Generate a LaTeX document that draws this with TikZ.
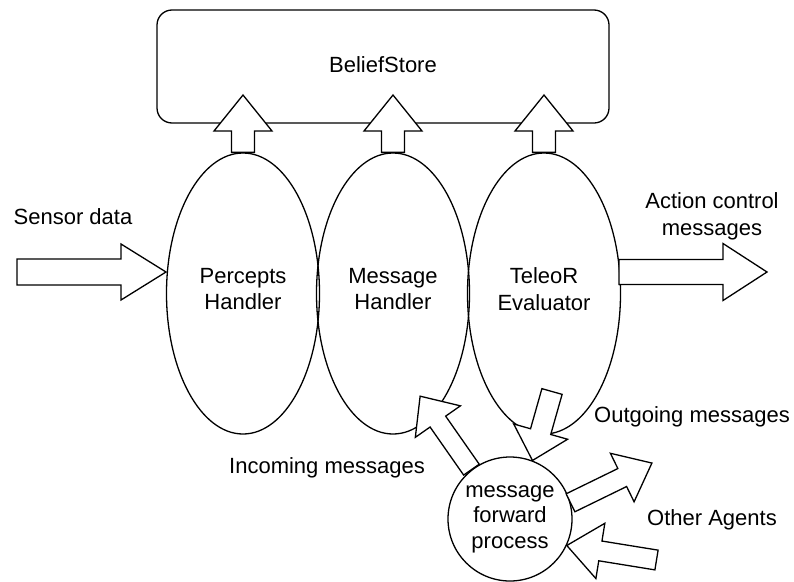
\documentclass[tikz,border=0pt]{standalone}
\usepackage{fontspec}
\setmainfont{Liberation Sans}
\usetikzlibrary{shapes.geometric,calc}
\tikzset{
  every node/.style={font=\fontsize{22}{26.5}\selectfont},
  thin line/.style={line width=1.3pt, line join=miter},
  hellipse/.style={thin line, draw, ellipse, minimum width=153pt, minimum height=281pt, inner sep=0pt, align=center},
  blockarr/.style={thin line, draw, fill=white},
  lbl/.style={align=center, inner sep=0pt}
}
% #1 from, #2 to, #3 shaft half width, #4 head half width, #5 head length
\newcommand\blockarrow[5]{%
  \path[blockarr] let \p1=(#1), \p2=(#2),
     \n1={atan2(\y2-\y1,\x2-\x1)}, \n2={veclen(\x2-\x1,\y2-\y1)} in
     {[shift={(\p1)}, rotate=\n1]
      (0,#3) -- ({\n2-#5},#3) -- ({\n2-#5},#4) -- (\n2,0) --
      ({\n2-#5},-#4) -- ({\n2-#5},-#3) -- (0,-#3) -- cycle};
}
\begin{document}
\begin{tikzpicture}[x=1pt,y=-1pt]
\useasboundingbox (0,0) rectangle (794,581);
% Belief store
\node[thin line, draw, rounded corners=15pt, minimum width=452pt, minimum height=113pt, inner sep=0pt] (bs) at (383,66.5) {};
\node[lbl] (bstxt) at (383,65) {BeliefStore};
% handlers
\node[hellipse] (ph) at (243,293.5) {};
\node[hellipse] (mh) at (393,293.5) {};
\node[hellipse] (te) at (544,293.5) {};
\node[lbl] (phtxt) at (243,289) {Percepts\\Handler};
\node[lbl] (mhtxt) at (393,289) {Message\\Handler};
\node[lbl] (tetxt) at (544,289) {TeleoR\\Evaluator};
% message forward process
\node[thin line, draw, circle, minimum size=124pt, inner sep=0pt, align=center, font=\fontsize{22}{25.5}\selectfont] (mf) at (510,519) {message\\forward\\process};
% coordinates
\coordinate (phtip) at (243,95);
\coordinate (mhtip) at (393,95);
\coordinate (tetip) at (544,95);
\coordinate (sensortail) at (17,272);
\coordinate (sensortip) at (166,272);
\coordinate (acttail) at (619,272);
\coordinate (acttip) at (767,272);
\coordinate (intip) at (420,396);
\coordinate (outtail) at (552,391.5);
\coordinate (oatip) at (652,463);
\coordinate (oatail) at (656.5,560);
% up arrows
\blockarrow{ph.north}{phtip}{11.5}{29}{36}
\blockarrow{mh.north}{mhtip}{11.5}{29}{36}
\blockarrow{te.north}{tetip}{11.5}{29}{36}
% input / output arrows
\blockarrow{sensortail}{sensortip}{13}{28}{45}
\blockarrow{acttail}{acttip}{12.5}{28.5}{44}
% message arrows
\blockarrow{mf.128}{intip}{9.5}{27.5}{31}
\blockarrow{outtail}{mf.69}{10.5}{28}{30}
\blockarrow{mf.15}{oatip}{10}{27}{33}
\blockarrow{oatail}{mf.-25}{10}{28}{34}
% labels
\node[lbl] (sensorlbl) at (73,217) {Sensor data};
\node[lbl] (actlbl) at (712,216.5) {Action control\\messages};
\node[lbl] (outlbl) at (692,417) {Outgoing messages};
\node[lbl] (inlbl) at (327,468) {Incoming messages};
\node[lbl] (oalbl) at (712,520) {Other Agents};
\end{tikzpicture}
\end{document}
